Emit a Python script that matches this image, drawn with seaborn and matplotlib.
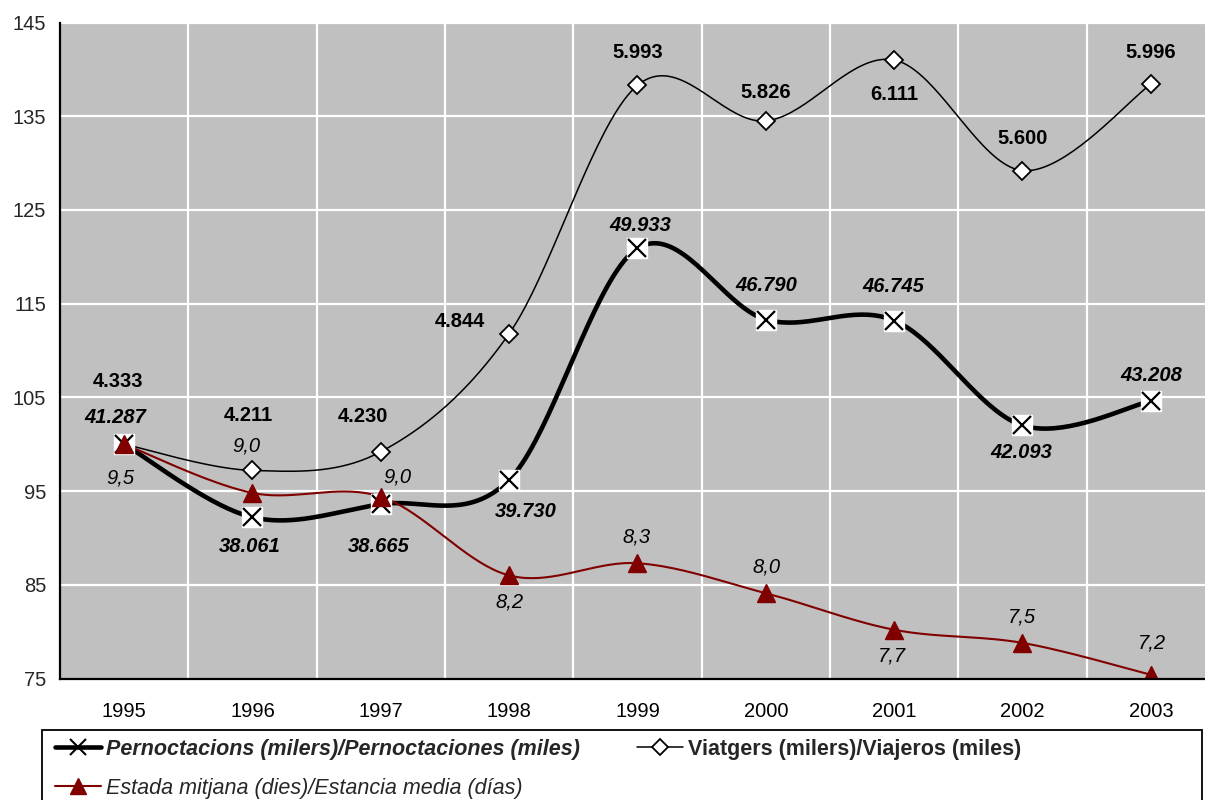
import matplotlib
matplotlib.use("Agg")
import matplotlib.pyplot as plt
import numpy as np
import pandas as pd
import seaborn as sns
from matplotlib.lines import Line2D
from matplotlib.patches import Rectangle

years = ['1995', '1996', '1997', '1998', '1999', '2000', '2001', '2002', '2003']

# index values (1995 = 100)
pernoct_idx = [100.0, 92.2, 93.6, 96.2, 120.9, 113.3, 113.2, 102.0, 104.6]
viatgers_idx = [100.0, 97.2, 99.2, 111.8, 138.3, 134.5, 141.0, 129.2, 138.4]
estada_idx = [100.0, 94.8, 94.4, 86.0, 87.3, 84.1, 80.2, 78.8, 75.4]

# labels shown next to each point
pernoct_lbl = ['41.287', '38.061', '38.665', '39.730', '49.933', '46.790', '46.745', '42.093', '43.208']
viatgers_lbl = ['4.333', '4.211', '4.230', '4.844', '5.993', '5.826', '6.111', '5.600', '5.996']
estada_lbl = ['9,5', '9,0', '9,0', '8,2', '8,3', '8,0', '7,7', '7,5', '7,2']

y_ticks = [75, 85, 95, 105, 115, 125, 135, 145]

# label offsets in pixels (dx, dy)
pernoct_off = [(-9, 27), (-3, -29), (-2, -42), (17, -32), (3, 23), (0, 34), (-1, 34), (-1, -27), (0, 26)]
viatgers_off = [(-6, 63), (-4, 55), (-18, 35), (-49, 12), (0, 33), (0, 28), (0, -35), (0, 32), (0, 32)]
estada_off = [(-4, -34), (-6, 47), (17, 20), (0, -27), (-1, 26), (1, 26), (-2, -26), (-1, 26), (1, 32)]

SX, SY = 128.3, 9.37  # pixels per unit, used so the smoothing looks like Excel's


def smooth(xs, ys, n=40):
    P = np.column_stack([np.asarray(xs, float) * SX, np.asarray(ys, float) * SY])
    out = []
    for i in range(len(P) - 1):
        p0 = P[i - 1] if i > 0 else P[i]
        p3 = P[i + 2] if i + 2 < len(P) else P[i + 1]
        c1 = P[i] + (P[i + 1] - p0) / 6
        c2 = P[i + 1] - (p3 - P[i]) / 6
        t = np.linspace(0, 1, n)[:, None]
        seg = (1 - t) ** 3 * P[i] + 3 * (1 - t) ** 2 * t * c1 + 3 * (1 - t) * t ** 2 * c2 + t ** 3 * P[i + 1]
        out.append(seg if i == 0 else seg[1:])
    out = np.vstack(out)
    return out[:, 0] / SX, out[:, 1] / SY


sns.set_theme(style="white")
plt.rcParams['font.family'] = ['Liberation Sans', 'DejaVu Sans']

fig = plt.figure(figsize=(12.05, 8), dpi=100)
ax = fig.add_axes([60 / 1205, 1 - 678.5 / 800, 1155 / 1205, 656 / 800])
ax.set_facecolor('#C0C0C0')

x = np.arange(len(years))
series = [
    ('viatgers', viatgers_idx, 'black', 1.1),
    ('pernoct', pernoct_idx, 'black', 3.3),
    ('estada', estada_idx, '#800000', 1.5),
]
for name, vals, col, lw in series:
    sx, sy = smooth(x, vals)
    df = pd.DataFrame({'x': sx, 'y': sy})
    sns.lineplot(data=df, x='x', y='y', sort=False, estimator=None, color=col, linewidth=lw, ax=ax, zorder=3)
    if name == 'viatgers':
        ax.plot(x, vals, ls='none', marker='D', ms=9.5, mfc='white', mec='black', mew=1.3, zorder=4)
    elif name == 'pernoct':
        ax.plot(x, vals, ls='none', marker='s', ms=15, mfc='white', mec='white', zorder=5)
        ax.plot(x, vals, ls='none', marker='x', ms=13, mec='black', mew=1.6, zorder=6)
    else:
        ax.plot(x, vals, ls='none', marker='^', ms=12.5, mfc='#800000', mec='#800000', zorder=7)

for vals, lbls, offs, w, st in [(viatgers_idx, viatgers_lbl, viatgers_off, 'bold', 'normal'),
                                 (pernoct_idx, pernoct_lbl, pernoct_off, 'bold', 'italic'),
                                 (estada_idx, estada_lbl, estada_off, 'normal', 'italic')]:
    for i, (v, t) in enumerate(zip(vals, lbls)):
        ax.annotate(t, (x[i], v), xytext=offs[i], textcoords='offset pixels', ha='center', va='center',
                    fontsize=14.5, fontweight=w, fontstyle=st, color='black', zorder=8)

ax.set_xlim(-0.5, len(years) - 0.5)
ax.set_ylim(75, 145)
ax.set_xticks(x)
ax.set_xticklabels(years)
ax.set_xticks(np.arange(-0.5, len(years)), minor=True)
ax.set_yticks(y_ticks)
ax.grid(False)
for b in np.arange(0.5, len(years) - 0.5):
    ax.axvline(b, color='white', lw=1.6, zorder=1)
for yt in y_ticks[1:]:
    ax.axhline(yt, color='white', lw=1.6, zorder=1)
ax.tick_params(axis='x', which='major', length=0, labelsize=14.5, pad=17, colors='black')
ax.tick_params(axis='x', which='minor', length=6, width=1.5, color='black', direction='out')
ax.tick_params(axis='y', which='major', length=6, width=1.5, color='black', direction='out', labelsize=14.5, pad=4)
ax.set_xlabel('')
ax.set_ylabel('')
for s in ['top', 'right']:
    ax.spines[s].set_visible(False)
for s in ['left', 'bottom']:
    ax.spines[s].set_color('black')
    ax.spines[s].set_linewidth(1.6)
ax.spines['bottom'].set_zorder(10)

# legend
fig.patches.append(Rectangle((42 / 1205, -0.02), 1160 / 1205, 0.02 + 70 / 800, transform=fig.transFigure,
                             facecolor='white', edgecolor='black', linewidth=1.3))
handles = [
    Line2D([], [], color='black', lw=3.3, marker='x', ms=11, mew=1.5, mec='black'),
    Line2D([], [], color='#800000', lw=1.5, marker='^', ms=12, mfc='#800000', mec='#800000'),
    Line2D([], [], color='black', lw=1.1, marker='D', ms=8, mfc='white', mec='black', mew=1.3),
]
labels = ['Pernoctacions (milers)/Pernoctaciones (miles)',
          'Estada mitjana (dies)/Estancia media (días)',
          'Viatgers (milers)/Viajeros (miles)']
leg = fig.legend(handles, labels, loc='upper left', bbox_to_anchor=(55 / 1205, 1 - 739 / 800), ncol=2,
                 frameon=False, fontsize=15.5, handlelength=2.15, handletextpad=0.2, labelspacing=0.82,
                 columnspacing=2.68, borderaxespad=0, borderpad=0)
styles = [('bold', 'italic'), ('normal', 'italic'), ('bold', 'normal')]
for txt, (w, st) in zip(leg.get_texts(), styles):
    txt.set_fontweight(w)
    txt.set_fontstyle(st)

fig.savefig('out.png', dpi=100)
